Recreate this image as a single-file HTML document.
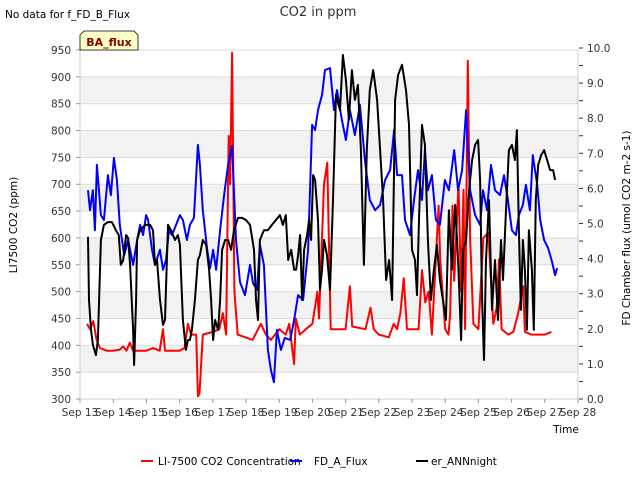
<!DOCTYPE html>
<html><head><meta charset="utf-8"><style>
body{margin:0;background:#fff;}
svg text{font-family:"DejaVu Sans","Liberation Sans",sans-serif;}
</style></head><body>
<svg id="chart" width="640" height="480" viewBox="0 0 640 480" xmlns="http://www.w3.org/2000/svg">
<text x="5" y="18" font-size="10.5" fill="#000">No data for f_FD_B_Flux</text>
<text x="318" y="16" font-size="13" text-anchor="middle" fill="#333">CO2 in ppm</text>
<g id="bands"></g>
<g id="grid"></g>
<g id="series"></g>
<g id="axes"></g>
<g>
<path d="M80,50 L80,35 L84,31 L134,31 L138,35 L138,50 Z" fill="#ffffc8" stroke="#000" stroke-width="0.8"/>
<text x="109" y="46" font-size="11" font-weight="bold" fill="#8b0000" text-anchor="middle">BA_flux</text>
</g>
<text x="0" y="0" transform="translate(17,225) rotate(-90)" font-size="10.5" text-anchor="middle">LI7500 CO2 (ppm)</text>
<text x="0" y="0" transform="translate(630,228) rotate(-90)" font-size="10.5" text-anchor="middle">FD Chamber flux (umol CO2 m-2 s-1)</text>
<text x="566" y="433" font-size="10.5" text-anchor="middle">Time</text>
<g>
<g><line x1="141" y1="461" x2="153" y2="461" stroke="#ff0000" stroke-width="2"/><text x="158" y="465" font-size="10.5">LI-7500 CO2 Concentration</text></g>
<g><line x1="290" y1="461" x2="302" y2="461" stroke="#0000ff" stroke-width="2"/><text x="314" y="465" font-size="10.5">FD_A_Flux</text></g>
<g><line x1="416" y1="461" x2="428" y2="461" stroke="#000" stroke-width="2"/><text x="431" y="465" font-size="10.5">er_ANNnight</text></g>
</g>
</svg>
<script>
const xTickLabels=["Sep 13","Sep 14","Sep 15","Sep 16","Sep 17","Sep 18","Sep 19","Sep 20","Sep 21","Sep 22","Sep 23","Sep 24","Sep 25","Sep 26","Sep 27","Sep 28"];
const leftTicks=[300,350,400,450,500,550,600,650,700,750,800,850,900,950];
const rightTicks=[0,1,2,3,4,5,6,7,8,9,10];
const co2Days=[0.21,0.3,0.4,0.5,0.6,0.8,1.0,1.2,1.3,1.4,1.5,1.6,2.0,2.2,2.4,2.5,2.56,3.0,3.15,3.25,3.35,3.5,3.55,3.6,3.7,4.0,4.2,4.3,4.4,4.48,4.52,4.58,4.65,4.75,5.2,5.45,5.6,5.75,6.0,6.2,6.3,6.45,6.5,6.62,6.8,7.0,7.15,7.2,7.35,7.45,7.55,7.8,8.0,8.13,8.2,8.6,8.75,8.85,9.0,9.3,9.45,9.55,9.65,9.75,9.85,10.0,10.2,10.3,10.4,10.5,10.6,10.65,10.8,10.85,11.0,11.1,11.15,11.22,11.27,11.4,11.48,11.55,11.6,11.68,11.75,11.85,12.0,12.15,12.3,12.45,12.55,12.62,12.7,12.9,13.05,13.2,13.35,13.4,13.6,14.0,14.2];
const co2Values=[440,430,445,410,395,390,390,392,398,390,405,390,390,395,390,430,390,390,395,440,420,420,305,310,420,425,430,460,420,790,700,945,500,420,410,440,420,410,430,420,440,365,450,420,430,440,500,450,700,740,430,430,430,510,435,430,470,430,420,415,440,430,460,525,430,430,430,540,480,500,420,480,660,560,430,420,460,660,520,700,500,690,430,930,600,440,430,600,610,440,470,560,430,420,425,460,510,425,420,420,425];
const fdaDays=[0.24,0.30,0.39,0.45,0.51,0.63,0.72,0.84,0.93,1.02,1.11,1.20,1.33,1.45,1.51,1.60,1.72,1.81,1.90,1.99,2.05,2.17,2.26,2.41,2.50,2.59,2.68,2.77,3.01,3.10,3.22,3.31,3.43,3.55,3.61,3.70,3.83,3.92,4.01,4.10,4.22,4.34,4.46,4.58,4.70,4.82,4.97,5.12,5.21,5.33,5.42,5.54,5.66,5.75,5.84,5.93,6.05,6.17,6.33,6.45,6.57,6.72,6.87,6.99,7.08,7.17,7.29,7.38,7.53,7.65,7.74,7.89,8.01,8.13,8.28,8.43,8.58,8.73,8.89,9.04,9.19,9.34,9.46,9.55,9.70,9.79,9.94,10.06,10.18,10.30,10.39,10.48,10.60,10.72,10.84,10.99,11.11,11.27,11.39,11.51,11.63,11.75,11.90,12.05,12.14,12.26,12.38,12.50,12.65,12.77,12.89,13.01,13.13,13.22,13.34,13.43,13.55,13.64,13.77,13.86,13.98,14.10,14.22,14.31,14.37];
const fdaValues=[5.95,5.38,5.95,4.81,6.67,5.24,5.10,6.38,5.81,6.87,6.24,4.96,4.10,4.53,4.25,3.82,4.53,4.96,4.67,5.24,5.10,4.25,3.82,4.25,3.68,3.96,4.81,4.67,5.24,5.10,4.53,4.96,5.16,7.24,6.67,5.38,4.25,3.73,4.25,3.68,4.81,5.81,6.67,7.21,4.53,3.33,2.96,3.82,3.30,3.11,4.39,3.82,1.40,0.83,0.48,1.97,1.40,1.74,1.68,2.25,2.96,2.82,4.25,7.81,7.66,8.23,8.66,9.37,9.43,8.23,8.80,7.95,7.38,8.23,7.52,8.38,6.81,5.67,5.38,5.53,6.24,6.52,7.66,6.38,6.38,5.10,4.67,5.67,6.52,5.67,7.09,5.95,6.38,5.10,4.96,6.24,5.95,7.09,5.95,6.52,8.23,5.95,5.24,4.96,5.95,5.38,6.67,5.95,5.81,6.38,5.67,4.81,4.67,5.24,5.53,6.10,5.38,6.95,6.10,5.10,4.53,4.30,3.90,3.53,3.73];
const erDays=[0.24,0.27,0.33,0.39,0.48,0.54,0.63,0.72,0.84,0.96,1.08,1.17,1.23,1.30,1.39,1.45,1.51,1.60,1.63,1.69,1.72,1.81,1.96,2.11,2.20,2.26,2.32,2.41,2.50,2.56,2.65,2.74,2.86,2.95,3.01,3.10,3.19,3.25,3.31,3.37,3.46,3.55,3.61,3.70,3.80,3.89,3.95,4.01,4.07,4.16,4.22,4.28,4.37,4.46,4.55,4.64,4.76,4.88,5.00,5.12,5.24,5.30,5.36,5.42,5.54,5.66,5.78,5.90,6.02,6.11,6.20,6.27,6.36,6.45,6.51,6.57,6.63,6.69,6.75,6.84,6.90,6.96,7.02,7.08,7.17,7.23,7.29,7.35,7.44,7.53,7.62,7.71,7.83,7.92,8.01,8.10,8.19,8.28,8.37,8.46,8.55,8.64,8.73,8.83,8.95,9.04,9.13,9.22,9.31,9.40,9.49,9.58,9.70,9.82,9.91,10.00,10.09,10.15,10.21,10.30,10.39,10.48,10.57,10.66,10.75,10.84,10.93,11.02,11.11,11.20,11.30,11.39,11.48,11.54,11.63,11.72,11.81,11.90,11.99,12.05,12.11,12.17,12.23,12.32,12.41,12.50,12.59,12.68,12.74,12.83,12.92,13.01,13.10,13.16,13.22,13.28,13.34,13.40,13.46,13.52,13.61,13.67,13.73,13.80,13.89,13.98,14.07,14.16,14.25,14.31];
const erValues=[4.62,2.82,1.97,1.54,1.25,1.68,4.53,4.96,5.04,5.04,4.81,4.67,3.82,3.96,4.67,4.59,3.82,1.97,0.97,2.82,4.53,4.81,4.96,4.96,4.81,3.82,3.96,2.82,2.11,2.25,4.96,4.81,4.53,4.67,4.39,2.25,1.40,1.68,1.68,1.97,2.82,3.96,4.10,4.53,4.39,3.68,2.82,1.68,2.25,1.97,2.82,4.25,4.53,4.53,4.25,4.81,5.16,5.16,5.10,4.96,4.25,2.82,2.25,4.53,4.81,4.81,4.96,5.10,5.24,4.96,5.24,3.96,4.25,3.68,3.68,4.10,4.67,2.82,4.25,4.67,5.10,4.53,6.38,6.24,5.10,3.11,3.68,4.53,4.10,3.11,5.67,8.66,8.23,9.80,9.09,7.95,9.37,8.52,8.95,7.09,3.82,7.09,8.80,9.37,8.52,7.09,5.67,3.39,3.96,2.82,8.52,9.23,9.52,8.80,7.81,4.25,3.96,2.96,5.10,7.81,7.24,4.53,2.82,3.68,4.39,3.39,2.82,2.25,5.38,3.68,5.53,3.96,1.68,4.25,4.53,5.95,6.81,7.24,7.38,6.24,2.82,1.11,3.96,5.67,2.54,3.96,2.25,4.53,3.39,5.38,7.09,7.24,6.81,7.66,4.81,2.54,4.53,3.68,1.97,4.81,3.68,1.97,5.67,6.67,6.95,7.09,6.81,6.52,6.52,6.24];

const NS="http://www.w3.org/2000/svg";
const X0=80,X1=578,Y0=399,YT=50;
function xScale(d){return X0+d*(X1-X0)/15;}
function yLeft(v){return Y0-(v-300)*(Y0-YT)/650;}
function yRight(v){return Y0-v*(Y0-48)/10;}
function mk(tag,attrs,parent){const e=document.createElementNS(NS,tag);for(const k in attrs)e.setAttribute(k,attrs[k]);parent.appendChild(e);return e;}
const bands=document.getElementById('bands'),grid=document.getElementById('grid'),axes=document.getElementById('axes'),series=document.getElementById('series');
mk('rect',{x:X0,y:YT,width:X1-X0,height:Y0-YT,fill:'#fff'},bands);
for(let v=350;v<950;v+=100){
  const r=mk('rect',{x:X0,y:yLeft(v+50),width:X1-X0,height:yLeft(v)-yLeft(v+50),fill:'#f2f2f2'},bands);
  
  
}
leftTicks.forEach(v=>{
  const y=yLeft(v);
  const l=mk('line',{x1:X0,x2:X1,y1:y,y2:y,stroke:'#dcdcdc','stroke-width':1},grid);
  
  
  const t=mk('text',{x:X0-9,y:y+4,'font-size':10.5,'text-anchor':'end',fill:'#333'},axes);
  t.textContent=v;
  
  
  mk('line',{x1:X0-4,x2:X0,y1:y,y2:y,stroke:'#999'},axes);
});
mk('line',{x1:X0,x2:X0,y1:YT,y2:Y0,stroke:'#ccc'},axes);
mk('line',{x1:X0,x2:X1,y1:Y0,y2:Y0,stroke:'#ccc'},axes);
mk('line',{x1:X1,x2:X1,y1:YT,y2:Y0,stroke:'#ccc'},axes);
for(let v=0;v<=10;v+=0.5){
  const y=yRight(v);
  mk('line',{x1:X1+1,x2:X1+5,y1:y,y2:y,stroke:'#333'},axes);
}
rightTicks.forEach(v=>{
  const t=mk('text',{x:X1+9,y:yRight(v)+4,'font-size':10.5,fill:'#333'},axes);
  t.textContent=v.toFixed(1);
  
  
});
xTickLabels.forEach((s,i)=>{
  const x=xScale(i);
  mk('line',{x1:x,x2:x,y1:Y0,y2:Y0+4,stroke:'#999'},axes);
  const t=mk('text',{x:x,y:Y0+17,'font-size':10.5,'text-anchor':'middle',fill:'#333'},axes);
  t.textContent=s;
  
  
});
function line(days,vals,yf,color,name){
  const d=days.map((t,i)=>(i?'L':'M')+xScale(t).toFixed(1)+','+yf(vals[i]).toFixed(1)).join('');
  const p=mk('path',{d:d,fill:'none',stroke:color,'stroke-width':2,'stroke-linejoin':'round'},series);
  
  
}
line(co2Days,co2Values,yLeft,'#ff0000','co2-concentration-line');
line(fdaDays,fdaValues,yRight,'#0000ff','fd-a-flux-line');
line(erDays,erValues,yRight,'#000000','er-annnight-line');
</script>
</body></html>
